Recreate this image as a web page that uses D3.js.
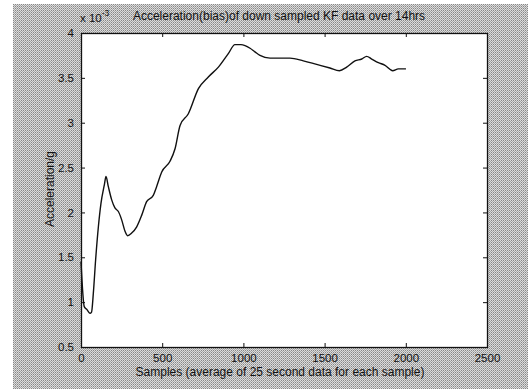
<!DOCTYPE html>
<html>
<head>
<meta charset="utf-8">
<script src="https://cdn.jsdelivr.net/npm/d3@7"></script>
<style>
  html, body { margin: 0; padding: 0; background: #fff; }
  svg { display: block; }
  text { font-family: "Liberation Sans", Arial, sans-serif; fill: #111; }
</style>
</head>
<body>
<svg id="chart" width="528" height="389"></svg>
<script>
// Sample index (each sample = 25 s average) and acceleration bias in units of 1e-3 g
const samples = [0, 20, 35, 55, 65, 76, 90, 107, 123, 144, 154, 168, 189, 209, 230, 250, 271, 287,
  312, 343, 374, 404, 445, 466, 497, 548, 579, 610, 661, 723, 784, 846, 907, 948, 985, 1010,
  1041, 1071, 1102, 1164, 1230, 1287, 1369, 1451, 1533, 1591, 1636, 1687, 1729, 1759, 1790,
  1831, 1872, 1919, 1954, 2001];
const bias = [1.45, 0.95, 0.92, 0.876, 0.89, 1.10, 1.47, 1.84, 2.10, 2.31, 2.40, 2.29, 2.14, 2.05,
  2.01, 1.92, 1.79, 1.74, 1.77, 1.84, 1.97, 2.12, 2.19, 2.29, 2.45, 2.57, 2.71, 2.97, 3.10,
  3.38, 3.51, 3.62, 3.77, 3.87, 3.87, 3.86, 3.83, 3.79, 3.75, 3.72, 3.72, 3.72, 3.69, 3.65,
  3.61, 3.58, 3.62, 3.69, 3.71, 3.74, 3.71, 3.67, 3.64, 3.58, 3.60, 3.60];

const xTicks = [0, 500, 1000, 1500, 2000, 2500];
const yTicks = [0.5, 1, 1.5, 2, 2.5, 3, 3.5, 4];
const yTickLabels = ["0.5", "1", "1.5", "2", "2.5", "3", "3.5", "4"];

const titleText = "Acceleration(bias)of down sampled KF data over 14hrs";
const xLabelText = "Samples (average of 25 second data for each sample)";
const yLabelText = "Acceleration/g";

const svg = d3.select("#chart");
const W = 528, H = 389;
const plot = { left: 81, right: 487, top: 33, bottom: 347 };

// Dithered grey figure background
const defs = svg.append("defs");
const pat = defs.append("pattern")
  .attr("id", "dither").attr("width", 2).attr("height", 2)
  .attr("patternUnits", "userSpaceOnUse");
pat.append("rect").attr("x", 0).attr("y", 0).attr("width", 2).attr("height", 2).attr("fill", "#dcdcdc");
pat.append("rect").attr("x", 1).attr("y", 0).attr("width", 1).attr("height", 1).attr("fill", "#888");
pat.append("rect").attr("x", 0).attr("y", 1).attr("width", 1).attr("height", 1).attr("fill", "#a8a8a8");

svg.append("rect").attr("x", 0).attr("y", 0).attr("width", W).attr("height", H).attr("fill", "#fff");
svg.append("rect").attr("x", 13).attr("y", 4).attr("width", W - 13).attr("height", H - 4)
  .attr("fill", "url(#dither)");

// Axes area
svg.append("rect")
  .attr("x", plot.left).attr("y", plot.top)
  .attr("width", plot.right - plot.left).attr("height", plot.bottom - plot.top)
  .attr("fill", "#fff");

const x = d3.scaleLinear().domain([0, 2500]).range([plot.left, plot.right]);
const y = d3.scaleLinear().domain([0.5, 4]).range([plot.bottom, plot.top]);

const tickLen = 4;
const axisStyle = g => {
  g.select(".domain").remove();
  g.selectAll(".tick line").attr("stroke", "#111").attr("stroke-width", 1);
  g.selectAll("text").style("font-family", "'Liberation Sans', Arial, sans-serif")
    .style("font-size", "11.5px").attr("fill", "#111");
};

// Bottom axis (ticks point inward)
svg.append("g").attr("transform", `translate(0,${plot.bottom})`)
  .call(d3.axisBottom(x).tickValues(xTicks).tickFormat(d3.format("d"))
    .tickSizeInner(-tickLen).tickSizeOuter(0).tickPadding(7))
  .call(axisStyle);
// Top axis ticks only
svg.append("g").attr("transform", `translate(0,${plot.top})`)
  .call(d3.axisTop(x).tickValues(xTicks).tickFormat("").tickSizeInner(-tickLen).tickSizeOuter(0))
  .call(axisStyle);
// Left axis
svg.append("g").attr("transform", `translate(${plot.left},0)`)
  .call(d3.axisLeft(y).tickValues(yTicks).tickFormat((d, i) => yTickLabels[i])
    .tickSizeInner(-tickLen).tickSizeOuter(0).tickPadding(7))
  .call(axisStyle);
// Right axis ticks only
svg.append("g").attr("transform", `translate(${plot.right},0)`)
  .call(d3.axisRight(y).tickValues(yTicks).tickFormat("").tickSizeInner(-tickLen).tickSizeOuter(0))
  .call(axisStyle);

// Axes box
svg.append("rect")
  .attr("x", plot.left + 0.5).attr("y", plot.top + 0.5)
  .attr("width", plot.right - plot.left).attr("height", plot.bottom - plot.top)
  .attr("fill", "none").attr("stroke", "#111").attr("stroke-width", 1.3);

// Data line
const line = d3.line().x((d, i) => x(samples[i])).y(d => y(d)).curve(d3.curveMonotoneX);
svg.append("path").datum(bias)
  .attr("d", line)
  .attr("fill", "none").attr("stroke", "#111").attr("stroke-width", 1.4)
  .attr("stroke-linejoin", "round");

// Exponent label
const expo = svg.append("text").attr("x", 80).attr("y", 22).style("font-size", "11.5px");
expo.append("tspan").text("x 10");
expo.append("tspan").attr("dy", -6).style("font-size", "8.5px").text("-3");

// Title
svg.append("text").attr("x", 279).attr("y", 20).attr("text-anchor", "middle")
  .style("font-size", "12px").text(titleText);

// X label
svg.append("text").attr("x", 280).attr("y", 376).attr("text-anchor", "middle")
  .style("font-size", "12px").text(xLabelText);

// Y label
svg.append("text").attr("transform", "translate(54,189) rotate(-90)")
  .attr("text-anchor", "middle").style("font-size", "12px").text(yLabelText);
</script>
</body>
</html>
